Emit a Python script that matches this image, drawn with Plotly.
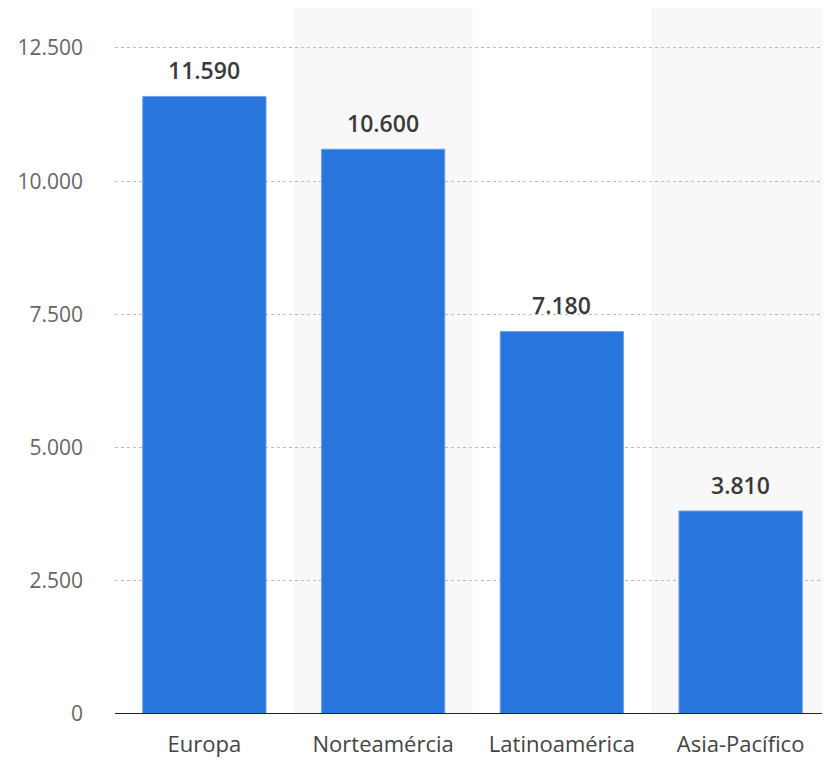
import plotly.graph_objects as go

categories = ["Europa", "Norteamércia", "Latinoamérica", "Asia-Pacífico"]
values = [11590, 10600, 7180, 3810]
value_labels = ["11.590", "10.600", "7.180", "3.810"]
y_tickvals = [0, 2500, 5000, 7500, 10000, 12500]
y_ticktext = ["0", "2.500", "5.000", "7.500", "10.000", "12.500"]

FONT = "Open Sans"
fig = go.Figure()
fig.add_trace(go.Bar(
    x=categories, y=values, width=0.69,
    marker=dict(color="#2876DD", line=dict(color="#6fa4ea", width=1)),
    hoverinfo="skip",
))

for c, v, t in zip(categories, values, value_labels):
    fig.add_annotation(x=c, y=v, text=t, showarrow=False, yanchor="bottom", yshift=8,
                       font=dict(family=FONT, size=23, color="#3a3a3a", weight=600))

shapes = []
for i in (1, 3):
    shapes.append(dict(type="rect", xref="x", yref="paper", x0=i - 0.5, x1=i + 0.5, y0=0, y1=1,
                       fillcolor="#F8F8F8", line=dict(width=0), layer="below"))
shapes.append(dict(type="line", xref="paper", yref="y", x0=0, x1=1, y0=0, y1=0,
                   line=dict(color="#222222", width=2)))
fig.update_layout(
    width=822, height=752,
    margin=dict(l=107, r=0, t=0, b=46, autoexpand=False),
    plot_bgcolor="white", paper_bgcolor="white",
    showlegend=False,
    shapes=shapes,
    xaxis=dict(range=[-0.5, 3.5], showgrid=False, zeroline=False, showline=False, automargin=False,
               tickfont=dict(family=FONT, size=22, color="#444444"), ticklabelstandoff=15),
    yaxis=dict(range=[0, 13250], tickvals=y_tickvals, ticktext=y_ticktext, automargin=False,
               showgrid=True, gridcolor="#bbbbbb", griddash="dot", gridwidth=1,
               zeroline=False, showline=False,
               tickfont=dict(family=FONT, size=21, color="#666666"), ticklabelstandoff=31),
)
fig.write_html("out.html")
